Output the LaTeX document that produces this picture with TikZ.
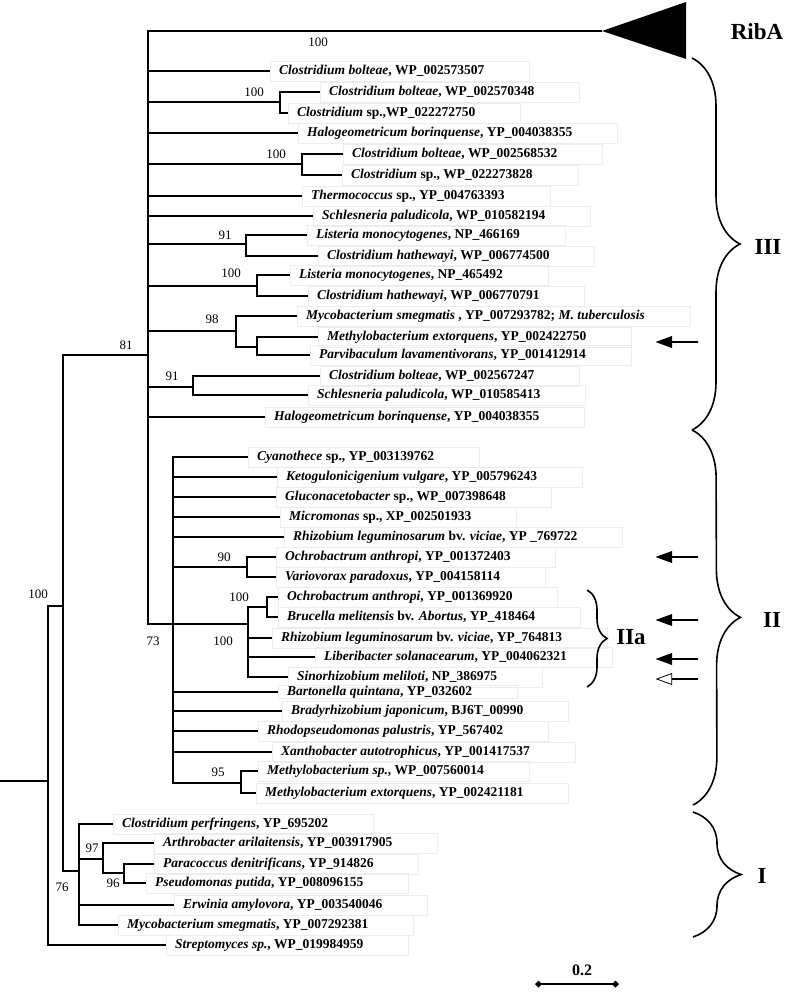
\documentclass[tikz,border=0pt]{standalone}
\usepackage{fontspec}
\setmainfont{Liberation Serif}
\usetikzlibrary{decorations.pathreplacing,shapes.arrows,arrows.meta}
\tikzset{
    leaf/.style={anchor=west, draw=black!7, inner xsep=9pt, inner ysep=0pt,
        minimum height=20pt, font=\fontsize{13.5}{15}\selectfont\bfseries,
        execute at end node={\hspace*{36pt}}},
    boot/.style={font=\fontsize{13}{15}\selectfont, inner sep=0pt},
    clade/.style={font=\fontsize{23}{26}\selectfont\bfseries, inner sep=0pt},
    branch/.style={line width=1.1pt},
    bracket/.style={line width=1.6pt, decorate, decoration={brace, amplitude=#1}},
    tagarrow/.style={single arrow, shape border rotate=180, draw=black, fill=#1,
        minimum height=41pt, minimum width=11pt, single arrow head extend=3.5pt,
        single arrow tip angle=40, inner sep=0pt, line width=0.8pt}
}
\begin{document}
\begin{tikzpicture}[x=1pt,y=-1pt]
        \useasboundingbox (0,0) rectangle (785,995);
        % inner nodes
        \coordinate (root) at (0,781);
        \coordinate (n0) at (48,781);
        \coordinate (n81) at (63,606);
        \coordinate (nIII) at (148,355);
        \coordinate (a100) at (280,102);
        \coordinate (b100) at (302,164);
        \coordinate (c91) at (246,244);
        \coordinate (d100) at (257,286);
        \coordinate (e98) at (236,331);
        \coordinate (f98) at (257,347);
        \coordinate (g91) at (193,387);
        \coordinate (nII) at (173,624);
        \coordinate (h90) at (247,567);
        \coordinate (nIIa) at (248,624);
        \coordinate (i100) at (267,607);
        \coordinate (j95) at (241,783);
        \coordinate (n76) at (79,871);
        \coordinate (k97) at (103,859);
        \coordinate (l96) at (124,873);
        \coordinate (ribtip) at (602,31);

        % clade III
        \node[leaf] (cbol1) at (270,71) {\textit{Clostridium bolteae}, WP\_002573507};
        \node[leaf] (cbol2) at (320,92) {\textit{Clostridium bolteae}, WP\_002570348};
        \node[leaf] (csp1) at (288,113) {\textit{Clostridium} sp.,WP\_022272750};
        \node[leaf] (hbor1) at (298,133) {\textit{Halogeometricum borinquense}, YP\_004038355};
        \node[leaf] (cbol3) at (343,154) {\textit{Clostridium bolteae}, WP\_002568532};
        \node[leaf] (csp2) at (342,175) {\textit{Clostridium} sp., WP\_022273828};
        \node[leaf] (therm) at (302,196) {\textit{Thermococcus} sp., YP\_004763393};
        \node[leaf] (schl1) at (313,216) {\textit{Schlesneria paludicola}, WP\_010582194};
        \node[leaf] (lmon1) at (307,235) {\textit{Listeria monocytogenes}, NP\_466169};
        \node[leaf] (chat1) at (318,256) {\textit{Clostridium hathewayi}, WP\_006774500};
        \node[leaf] (lmon2) at (290,275) {\textit{Listeria monocytogenes}, NP\_465492};
        \node[leaf] (chat2) at (308,296) {\textit{Clostridium hathewayi}, WP\_006770791};
        \node[leaf] (msmeg1) at (297,316) {\textit{Mycobacterium smegmatis} , YP\_007293782; \textit{M. tuberculosis}};
        \node[leaf] (mext1) at (318,337) {\textit{Methylobacterium extorquens}, YP\_002422750};
        \node[leaf] (plav) at (310,355) {\textit{Parvibaculum lavamentivorans}, YP\_001412914};
        \node[leaf] (cbol4) at (320,376) {\textit{Clostridium bolteae}, WP\_002567247};
        \node[leaf] (schl2) at (308,395) {\textit{Schlesneria paludicola}, WP\_010585413};
        \node[leaf] (hbor2) at (265,417) {\textit{Halogeometricum borinquense}, YP\_004038355};

        % clade II
        \node[leaf] (cyan) at (248,457) {\textit{Cyanothece} sp., YP\_003139762};
        \node[leaf] (keto) at (277,477) {\textit{Ketogulonicigenium vulgare}, YP\_005796243};
        \node[leaf] (gluc) at (276,497) {\textit{Gluconacetobacter} sp., WP\_007398648};
        \node[leaf] (micro) at (280,517) {\textit{Micromonas} sp., XP\_002501933};
        \node[leaf] (rleg1) at (284,537) {\textit{Rhizobium leguminosarum} bv. \textit{viciae}, YP \_769722};
        \node[leaf] (ochr1) at (276,557) {\textit{Ochrobactrum anthropi}, YP\_001372403};
        \node[leaf] (vpar) at (276,577) {\textit{Variovorax paradoxus}, YP\_004158114};
        \node[leaf] (ochr2) at (278,597) {\textit{Ochrobactrum anthropi}, YP\_001369920};
        \node[leaf] (bmel) at (278,617) {\textit{Brucella melitensis} bv. \textit{Abortus}, YP\_418464};
        \node[leaf] (rleg2) at (272,638) {\textit{Rhizobium leguminosarum} bv. \textit{viciae}, YP\_764813};
        \node[leaf] (lsol) at (315,657) {\textit{Liberibacter solanacearum}, YP\_004062321};
        \node[leaf] (smel) at (288,677) {\textit{Sinorhizobium meliloti}, NP\_386975};
        \node[leaf, minimum height=13pt] (bqui) at (278,692) {\textit{Bartonella quintana}, YP\_032602};
        \node[leaf] (bjap) at (282,711) {\textit{Bradyrhizobium japonicum}, BJ6T\_00990};
        \node[leaf] (rpal) at (258,731) {\textit{Rhodopseudomonas palustris}, YP\_567402};
        \node[leaf] (xaut) at (272,752) {\textit{Xanthobacter autotrophicus}, YP\_001417537};
        \node[leaf] (msp) at (258,771) {\textit{Methylobacterium sp.}, WP\_007560014};
        \node[leaf] (mext2) at (256,793) {\textit{Methylobacterium extorquens}, YP\_002421181};

        % clade I
        \node[leaf] (cper) at (113,824) {\textit{Clostridium perfringens}, YP\_695202};
        \node[leaf] (aari) at (154,843) {\textit{Arthrobacter arilaitensis}, YP\_003917905};
        \node[leaf] (pden) at (154,864) {\textit{Paracoccus denitrificans}, YP\_914826};
        \node[leaf] (pput) at (146,883) {\textit{Pseudomonas putida}, YP\_008096155};
        \node[leaf] (eamy) at (174,905) {\textit{Erwinia amylovora}, YP\_003540046};
        \node[leaf] (msmeg2) at (118,925) {\textit{Mycobacterium smegmatis}, YP\_007292381};
        \node[leaf] (strep) at (166,945) {\textit{Streptomyces sp.}, WP\_019984959};

        % branches
        \draw[branch] (root) -- (n0);
        \draw[branch] (n0) |- (n81);
        \draw[branch] (n0) |- (strep.west);
        \draw[branch] (n81) |- (nIII);
        \draw[branch] (n81) |- (n76);
        \draw[branch] (nIII) |- (ribtip);
        \draw[branch] (nIII) |- (cbol1.west);
        \draw[branch] (nIII) |- (a100);
        \draw[branch] (a100) |- (cbol2.west);
        \draw[branch] (a100) |- (csp1.west);
        \draw[branch] (nIII) |- (hbor1.west);
        \draw[branch] (nIII) |- (b100);
        \draw[branch] (b100) |- (cbol3.west);
        \draw[branch] (b100) |- (csp2.west);
        \draw[branch] (nIII) |- (therm.west);
        \draw[branch] (nIII) |- (schl1.west);
        \draw[branch] (nIII) |- (c91);
        \draw[branch] (c91) |- (lmon1.west);
        \draw[branch] (c91) |- (chat1.west);
        \draw[branch] (nIII) |- (d100);
        \draw[branch] (d100) |- (lmon2.west);
        \draw[branch] (d100) |- (chat2.west);
        \draw[branch] (nIII) |- (e98);
        \draw[branch] (e98) |- (msmeg1.west);
        \draw[branch] (e98) |- (f98);
        \draw[branch] (f98) |- (mext1.west);
        \draw[branch] (f98) |- (plav.west);
        \draw[branch] (nIII) |- (g91);
        \draw[branch] (g91) |- (cbol4.west);
        \draw[branch] (g91) |- (schl2.west);
        \draw[branch] (nIII) |- (hbor2.west);
        \draw[branch] (nIII) |- (nII);
        \draw[branch] (nII) |- (cyan.west);
        \draw[branch] (nII) |- (keto.west);
        \draw[branch] (nII) |- (gluc.west);
        \draw[branch] (nII) |- (micro.west);
        \draw[branch] (nII) |- (rleg1.west);
        \draw[branch] (nII) |- (h90);
        \draw[branch] (h90) |- (ochr1.west);
        \draw[branch] (h90) |- (vpar.west);
        \draw[branch] (nII) -- (nIIa);
        \draw[branch] (nIIa) |- (i100);
        \draw[branch] (i100) |- (ochr2.west);
        \draw[branch] (i100) |- (bmel.west);
        \draw[branch] (nIIa) |- (rleg2.west);
        \draw[branch] (nIIa) |- (lsol.west);
        \draw[branch] (nIIa) |- (smel.west);
        \draw[branch] (nII) |- (bqui.west);
        \draw[branch] (nII) |- (bjap.west);
        \draw[branch] (nII) |- (rpal.west);
        \draw[branch] (nII) |- (xaut.west);
        \draw[branch] (nII) |- (j95);
        \draw[branch] (j95) |- (msp.west);
        \draw[branch] (j95) |- (mext2.west);
        \draw[branch] (n76) |- (cper.west);
        \draw[branch] (n76) |- (k97);
        \draw[branch] (k97) |- (aari.west);
        \draw[branch] (k97) |- (l96);
        \draw[branch] (l96) |- (pden.west);
        \draw[branch] (l96) |- (pput.west);
        \draw[branch] (n76) |- (eamy.west);
        \draw[branch] (n76) |- (msmeg2.west);

        % collapsed RibA group
        \fill (ribtip) -- (686,2) -- (686,59) -- cycle;

        % bootstrap values
        \node[boot] (s1) at (318,42) {100};
        \node[boot] (s2) at (254,92) {100};
        \node[boot] (s3) at (276,154) {100};
        \node[boot] (s4) at (225,235) {91};
        \node[boot] (s5) at (231,273) {100};
        \node[boot] (s6) at (212,319) {98};
        \node[boot] (s7) at (126,345) {81};
        \node[boot] (s8) at (172,376) {91};
        \node[boot] (s9) at (224,557) {90};
        \node[boot] (s10) at (239,597) {100};
        \node[boot] (s11) at (223,641) {100};
        \node[boot] (s12) at (153,641) {73};
        \node[boot] (s13) at (218,772) {95};
        \node[boot] (s14) at (38,594) {100};
        \node[boot] (s15) at (92,848) {97};
        \node[boot] (s16) at (113,883) {96};
        \node[boot] (s17) at (62,887) {76};

        % group braces
        \coordinate (brIIItop) at (692,58);
        \coordinate (brIIIbot) at (692,430);
        \coordinate (brIIbot) at (693,805);
        \coordinate (brItop) at (693,812);
        \coordinate (brIbot) at (693,937);
        \coordinate (brIIatop) at (587,590);
        \coordinate (brIIabot) at (587,687);
        \draw[bracket=48pt] (brIIItop) -- (brIIIbot);
        \draw[bracket=48pt] (brIIIbot) -- (brIIbot);
        \draw[bracket=48pt] (brItop) -- (brIbot);
        \draw[bracket=20pt] (brIIatop) -- (brIIabot);
        \node[clade] (ribA) at (757,32) {RibA};
        \node[clade] (gIII) at (768,247) {III};
        \node[clade] (gII) at (772,620) {II};
        \node[clade] (gI) at (762,876) {I};
        \node[clade] (gIIa) at (631,637) {IIa};

        % marked sequences
        \node[tagarrow=black] (ar1) at (678,342) {};
        \node[tagarrow=black] (ar2) at (678,557) {};
        \node[tagarrow=black] (ar3) at (678,620) {};
        \node[tagarrow=black] (ar4) at (678,659) {};
        \node[tagarrow=white] (ar5) at (678,679) {};

        % scale bar
        \coordinate (sbl) at (535,984);
        \coordinate (sbr) at (619,984);
        \draw[line width=2pt, {Diamond[length=7pt,width=7pt]}-{Diamond[length=7pt,width=7pt]}] (sbl) -- (sbr);
        \node[font=\fontsize{16}{18}\selectfont\bfseries, inner sep=0pt] (sbtext) at (582,970) {0.2};
\end{tikzpicture}
\end{document}
